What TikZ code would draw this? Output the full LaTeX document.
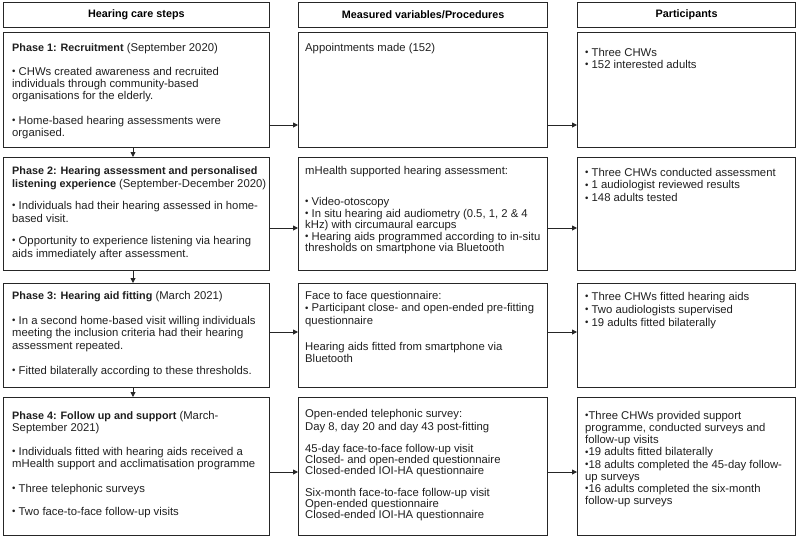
\documentclass[tikz,border=0pt]{standalone}
\usepackage{fontspec}
\setmainfont{Liberation Sans}
\usetikzlibrary{arrows.meta}
\newcommand\fs[2]{\fontsize{#1}{#2}\selectfont}
\newcommand\bu{\raisebox{0.06em}{\scalebox{0.85}{•}}}
\newcommand\tb[1]{{\fontsize{10.8}{\baselineskip}\selectfont\bfseries #1}}
\tikzset{
  box/.style={draw=black!85, line width=1.2pt, inner sep=0pt, anchor=north west},
  hdr/.style={box, minimum height=25pt, font=\bfseries\fs{10.8}{13}},
  txt/.style={anchor=north west, inner sep=0pt, align=left, text=black!88},
  arr/.style={-{Triangle[length=5pt,width=5pt]}, line width=0.9pt, draw=black!85},
}
\begin{document}
\begin{tikzpicture}[x=1pt, y=-1pt]
\useasboundingbox (0,0) rectangle (800,538);
% headers
\node[hdr, minimum width=265.5pt] (h1) at (3,2) {Hearing care steps};
\node[hdr, minimum width=249pt] (h2) at (298,2) {Measured variables/Procedures};
\node[hdr, minimum width=218pt] (h3) at (577,2) {Participants};
% boxes
\node[box, minimum width=265.5pt, minimum height=115pt] (l1) at (3,32) {};
\node[box, minimum width=249pt, minimum height=115pt] (m1) at (298,32) {};
\node[box, minimum width=218pt, minimum height=115pt] (r1) at (577,32) {};
\node[box, minimum width=265.5pt, minimum height=113pt] (l2) at (3,157) {};
\node[box, minimum width=249pt, minimum height=113pt] (m2) at (298,157) {};
\node[box, minimum width=218pt, minimum height=113pt] (r2) at (577,157) {};
\node[box, minimum width=265.5pt, minimum height=104pt] (l3) at (3,283) {};
\node[box, minimum width=249pt, minimum height=104pt] (m3) at (298,283) {};
\node[box, minimum width=218pt, minimum height=104pt] (r3) at (577,283) {};
\node[box, minimum width=265.5pt, minimum height=138pt] (l4) at (3,397) {};
\node[box, minimum width=249pt, minimum height=138pt] (m4) at (298,397) {};
\node[box, minimum width=218pt, minimum height=138pt] (r4) at (577,397) {};
% left texts
\node[txt, font=\fs{11.3}{12.2}] (tl1) at (12,42.5) {\strut\tb{Phase 1: Recruitment} (September 2020)\\[12pt]
\bu{} CHWs created awareness and recruited\\
individuals through community-based\\
organisations for the elderly.\\[12pt]
\bu{} Home-based hearing assessments were\\
organised.};
\node[txt, font=\fs{11.3}{13}] (tl2) at (12,164.9) {\strut\tb{Phase 2: Hearing assessment and personalised}\\
\tb{listening experience} (September-December 2020)\\[9pt]
\bu{} Individuals had their hearing assessed in home-\\
based visit.\\[9pt]
\bu{} Opportunity to experience listening via hearing\\
aids immediately after assessment.};
\node[txt, font=\fs{11.3}{12.5}] (tl3) at (12,290.3) {\strut\tb{Phase 3: Hearing aid fitting} (March 2021)\\[12.5pt]
\bu{} In a second home-based visit willing individuals\\
meeting the inclusion criteria had their hearing\\
assessment repeated.\\[12.5pt]
\bu{} Fitted bilaterally according to these thresholds.};
\node[txt, font=\fs{11.3}{12.2}] (tl4) at (12,410.5) {\strut\tb{Phase 4: Follow up and support} (March-\\
September 2021)\\[12pt]
\bu{} Individuals fitted with hearing aids received a\\
mHealth support and acclimatisation programme\\[12pt]
\bu{} Three telephonic surveys\\[11pt]
\bu{} Two face-to-face follow-up visits};
% middle texts
\node[txt, font=\fs{11.3}{12}] (tm1) at (305,42.6) {\strut Appointments made (152)};
\node[txt, font=\fs{11.3}{11.5}] (tm2) at (305,166) {\strut mHealth supported hearing assessment:\\[18.5pt]
\bu{} Video-otoscopy\\
\bu{} In situ hearing aid audiometry (0.5, 1, 2 \& 4\\
kHz) with circumaural earcups\\
\bu{} Hearing aids programmed according to in-situ\\
thresholds on smartphone via Bluetooth};
\node[txt, font=\fs{11.3}{12.7}] (tm3) at (305,290.1) {\strut Face to face questionnaire:\\
\bu{} Participant close- and open-ended pre-fitting\\
questionnaire\\[13pt]
Hearing aids fitted from smartphone via\\
Bluetooth};
\node[txt, font=\fs{11.3}{11.2}] (tm4) at (305,409.2) {\strut Open-ended telephonic survey:\\
Day 8, day 20 and day 43 post-fitting\\[10.8pt]
45-day face-to-face follow-up visit\\
Closed- and open-ended questionnaire\\
Closed-ended IOI-HA questionnaire\\[10.8pt]
Six-month face-to-face follow-up visit\\
Open-ended questionnaire\\
Closed-ended IOI-HA questionnaire};
% right texts
\node[txt, font=\fs{11.3}{12}] (tr1) at (585,47.6) {\strut\bu{} Three CHWs\\
\bu{} 152 interested adults};
\node[txt, font=\fs{11.3}{12.8}] (tr2) at (585,167) {\strut\bu{} Three CHWs conducted assessment\\
\bu{} 1 audiologist reviewed results\\
\bu{} 148 adults tested};
\node[txt, font=\fs{11.3}{13}] (tr3) at (585,290.9) {\strut\bu{} Three CHWs fitted hearing aids\\
\bu{} Two audiologists supervised\\
\bu{} 19 adults fitted bilaterally};
\node[txt, font=\fs{11.3}{12.2}] (tr4) at (585,410.5) {\strut\bu{}Three CHWs provided support\\
programme, conducted surveys and\\
follow-up visits\\
\bu{}19 adults fitted bilaterally\\
\bu{}18 adults completed the 45-day follow-\\
up surveys\\
\bu{}16 adults completed the six-month\\
follow-up surveys};
% arrow levels
\coordinate (y1) at (0,125);
\coordinate (y2) at (0,228);
\coordinate (y3) at (0,332);
\coordinate (y4) at (0,472);
\coordinate (vx) at (133,0);
% horizontal connectors
\draw[arr] (l1.east |- y1) -- (m1.west |- y1);
\draw[arr] (m1.east |- y1) -- (r1.west |- y1);
\draw[arr] (l2.east |- y2) -- (m2.west |- y2);
\draw[arr] (m2.east |- y2) -- (r2.west |- y2);
\draw[arr] (l3.east |- y3) -- (m3.west |- y3);
\draw[arr] (m3.east |- y3) -- (r3.west |- y3);
\draw[arr] (l4.east |- y4) -- (m4.west |- y4);
\draw[arr] (m4.east |- y4) -- (r4.west |- y4);
% vertical connectors
\draw[arr] (l1.south -| vx) -- (l2.north -| vx);
\draw[arr] (l2.south -| vx) -- (l3.north -| vx);
\draw[arr] (l3.south -| vx) -- (l4.north -| vx);
\end{tikzpicture}
\end{document}
